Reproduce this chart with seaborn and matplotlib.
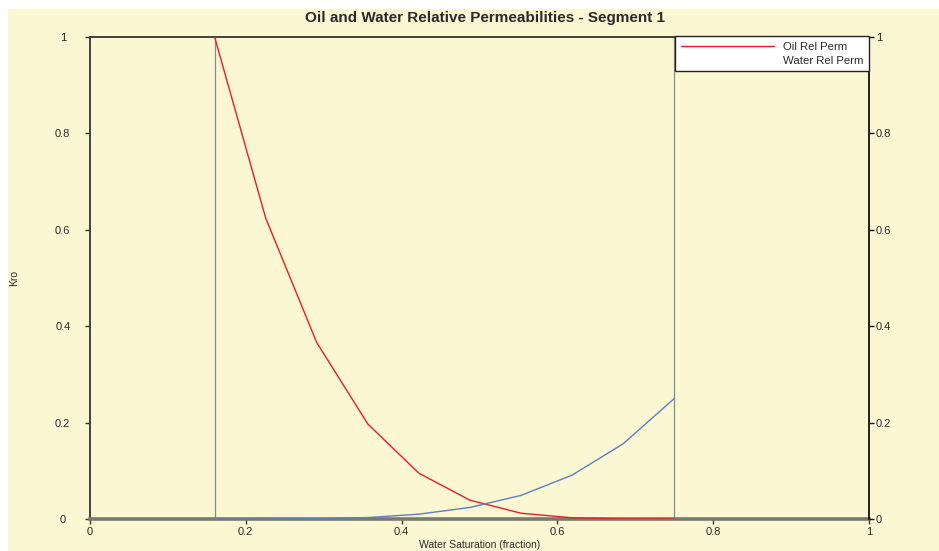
import matplotlib
matplotlib.use("Agg")
import matplotlib.pyplot as plt
from matplotlib.lines import Line2D
from matplotlib.patches import Rectangle
import seaborn as sns
import pandas as pd

# values
water_sat = [0.16, 0.2256, 0.2911, 0.3567, 0.4222, 0.4878, 0.5533, 0.6189, 0.6844, 0.75]
oil_kr = [1.0, 0.624, 0.366, 0.197, 0.095, 0.039, 0.012, 0.0025, 0.0002, 0.0]
water_kr = [0.0, 0.00004, 0.0006, 0.003, 0.010, 0.024, 0.049, 0.091, 0.156, 0.25]
endpoint_sat = [0.16, 0.75]
series_names = ["Oil Rel Perm", "Water Rel Perm"]
ticks = [0, 0.2, 0.4, 0.6, 0.8, 1]
tick_labels = ["0", "0.2", "0.4", "0.6", "0.8", "1"]

cream = "#FAF7D2"
txt = "#2a2a2a"

sns.set_theme(style="white")
plt.rcParams["font.family"] = ["Liberation Sans", "DejaVu Sans"]

df = pd.DataFrame({
    "Sw": water_sat * 2,
    "kr": oil_kr + water_kr,
    "series": [series_names[0]] * len(water_sat) + [series_names[1]] * len(water_sat),
})

fig = plt.figure(figsize=(9.39, 5.51), dpi=100, facecolor="white")
fig.patches.append(Rectangle((8 / 939, 0), 1, 1 - 9 / 551, transform=fig.transFigure,
                             facecolor=cream, edgecolor="none", zorder=-10))
ax = fig.add_axes([90 / 939, 1 - 519 / 551, 779 / 939, 482 / 551])
ax.set_facecolor(cream)

for s in endpoint_sat:
    ax.axvline(s, color="#8c8c8c", lw=0.9, zorder=1)

sns.lineplot(data=df, x="Sw", y="kr", hue="series",
             palette={series_names[0]: "#EE1C25", series_names[1]: "#5D7EC2"},
             linewidth=1.0, legend=False, sort=False, ax=ax, zorder=3)

ax.set_xlim(0, 1)
ax.set_ylim(0, 1)
ax.set_xticks(ticks)
ax.set_xticklabels(tick_labels)
ax.set_yticks(ticks)
ax.set_yticklabels(tick_labels)
ax.tick_params(axis="x", direction="out", length=3.5, width=1, color="#333333",
               labelsize=8, labelcolor=txt, pad=2, bottom=True)
ax.tick_params(axis="y", direction="out", length=3.6, width=1, color="#333333",
               labelsize=8, labelcolor=txt, pad=16, left=True)
for lab in ax.get_yticklabels():
    lab.set_horizontalalignment("center")

ax.set_xlabel("Water Saturation (fraction)", fontsize=7.5, color=txt)
ax.xaxis.set_label_coords(0.5, -0.044)
ax.set_ylabel("Kro", fontsize=7.5, color=txt)
ax.yaxis.set_label_coords(-0.091, 0.5)

ax.spines["left"].set_color("#333333")
ax.spines["left"].set_linewidth(1.3)
ax.spines["top"].set_color("#333333")
ax.spines["top"].set_linewidth(1.3)
ax.spines["bottom"].set_color("#7a7a72")
ax.spines["bottom"].set_linewidth(2.6)
ax.spines["right"].set_visible(False)

ax2 = ax.twinx()
ax2.set_ylim(0, 1)
ax2.set_yticks(ticks)
ax2.set_yticklabels(tick_labels)
ax2.tick_params(axis="y", direction="out", length=3.6, width=1, color="#111111",
                labelsize=8, labelcolor=txt, pad=1.5)
for side in ["left", "top", "bottom"]:
    ax2.spines[side].set_visible(False)
ax2.spines["right"].set_color("#111111")
ax2.spines["right"].set_linewidth(1.3)
ax2.grid(False)

handles = [Line2D([], [], color="#EE1C25", lw=1.0), Line2D([], [], color="none")]
leg = ax2.legend(handles, series_names, loc="upper right", bbox_to_anchor=(1.0, 1.002),
                 borderaxespad=0, fontsize=8.2, frameon=True, fancybox=False,
                 handlelength=8.2, handletextpad=0.75, labelspacing=0.35,
                 borderpad=0.5, framealpha=1)
leg.get_frame().set_edgecolor("#222222")
leg.get_frame().set_linewidth(1.0)
for t in leg.get_texts():
    t.set_color(txt)

fig.text(485 / 939, 1 - 18 / 551, "Oil and Water Relative Permeabilities - Segment 1",
         ha="center", va="center", fontsize=11, fontweight="bold", color=txt)

fig.savefig("out.png", dpi=100, facecolor=fig.get_facecolor())
